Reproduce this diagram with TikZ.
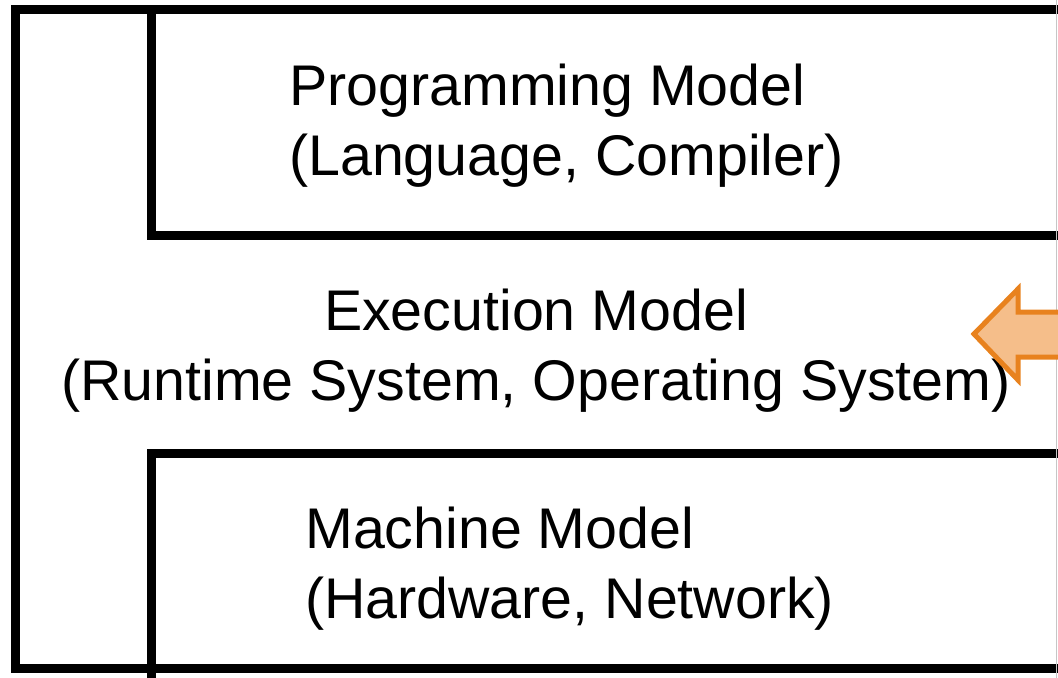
\documentclass[tikz,border=0pt]{standalone}
\usepackage{fontspec}
\setmainfont{Liberation Sans}
\usepackage{xcolor}
\usetikzlibrary{positioning}
\definecolor{LOrange}{HTML}{E8821E}
\definecolor{LPeach}{HTML}{F5BE8A}

\begin{document}
\begin{tikzpicture}[
  x=0.75pt,y=-0.75pt,
  every node/.style={font=\fontsize{43}{52.5}\selectfont,inner sep=0pt},
  frame/.style={line width=6.75pt,draw=black,line join=miter},
  layer/.style={align=left,anchor=north west},
  midlayer/.style={align=center,anchor=north},
  marker/.style={draw=LOrange,fill=LPeach,line width=3.75pt,line join=miter}
]
  \useasboundingbox (0,0) rectangle (1058,678);
  \clip (0,0) rectangle (1058,678);
  % outer frame and the two inset boxes
  \draw[frame] (1080,9.5) -- (15.5,9.5) -- (15.5,668.5) -- (1080,668.5);
  \draw[frame] (151,5) -- (151,235) -- (1080,235);
  \draw[frame] (1080,453) -- (151,453) -- (151,690);
  \draw[gray!45,line width=0.75pt] (1056.5,0) -- (1056.5,678);
  \node[layer] (prog) at (289,64) {Programming Model\\(Language, Compiler)};
  \node[midlayer] (exec) at (536,289) {Execution Model\\(Runtime System, Operating System)};
  \node[layer] (mach) at (305,507) {Machine Model\\(Hardware, Network)};
  % arrow pointing at the execution layer
  \draw[marker] (1080,312) -- (1018,312) -- (1018,289) -- (974,334)
    -- (1018,380) -- (1018,357) -- (1080,357);
\end{tikzpicture}
\end{document}
